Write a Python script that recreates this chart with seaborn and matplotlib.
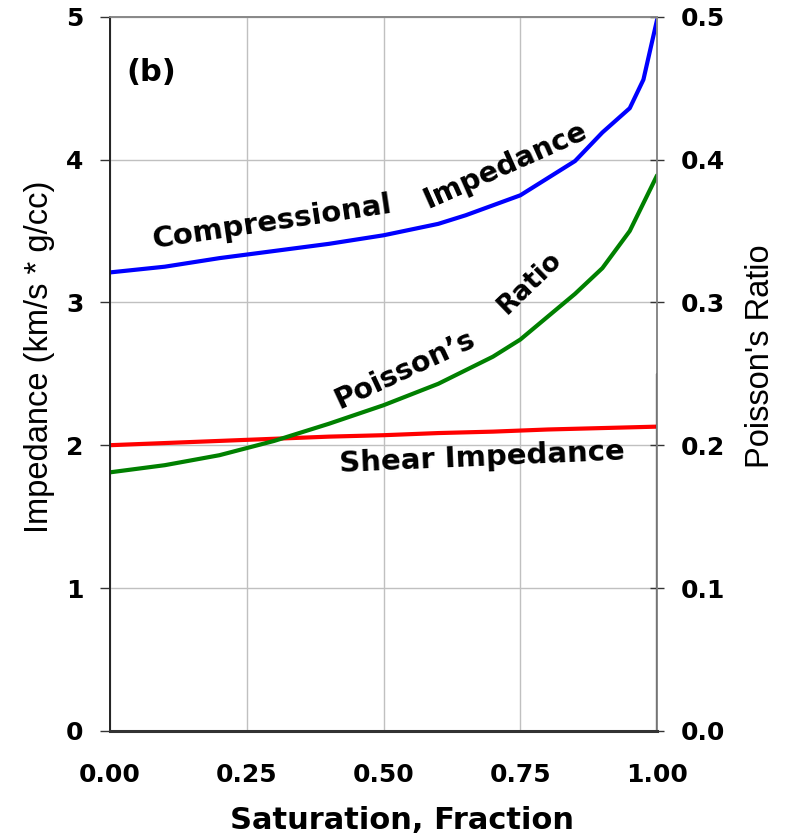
import matplotlib
matplotlib.use("Agg")
import matplotlib.pyplot as plt
import seaborn as sns

sns.set_style("white")
plt.rcParams['font.family'] = ['DejaVu Sans']
plt.rcParams['text.color'] = 'black'
plt.rcParams['axes.labelcolor'] = 'black'
plt.rcParams['xtick.color'] = 'black'
plt.rcParams['ytick.color'] = 'black'

# Data
comp_x = [0.0, 0.1, 0.2, 0.3, 0.4, 0.5, 0.6, 0.65, 0.75, 0.85, 0.9, 0.95, 0.975, 1.0]
comp_y = [3.21, 3.25, 3.31, 3.36, 3.41, 3.47, 3.55, 3.61, 3.75, 3.99, 4.19, 4.36, 4.56, 4.98]
shear_x = [0.0, 0.1, 0.2, 0.3, 0.4, 0.5, 0.6, 0.7, 0.8, 0.9, 1.0]
shear_y = [2.00, 2.015, 2.03, 2.045, 2.06, 2.07, 2.085, 2.095, 2.11, 2.12, 2.13]
pr_x = [0.0, 0.1, 0.2, 0.3, 0.4, 0.5, 0.6, 0.7, 0.75, 0.8, 0.85, 0.9, 0.95, 1.0]
pr_y = [0.181, 0.186, 0.193, 0.203, 0.215, 0.228, 0.243, 0.262, 0.274, 0.29, 0.306, 0.324, 0.35, 0.389]

x_ticks = [0.0, 0.25, 0.5, 0.75, 1.0]
x_ticklabels = ["0.00", "0.25", "0.50", "0.75", "1.00"]
left_ticks = [0, 1, 2, 3, 4, 5]
right_ticks = [0.0, 0.1, 0.2, 0.3, 0.4, 0.5]

fig = plt.figure(figsize=(7.86, 8.4), dpi=100)
ax = fig.add_axes([0.140, 0.130, 0.696, 0.850])

ax.grid(True, color="#c0c0c0", linewidth=1.0)
ax.set_axisbelow(True)

sns.lineplot(x=comp_x, y=comp_y, ax=ax, color="#0000ff", linewidth=3, estimator=None, sort=False)
sns.lineplot(x=shear_x, y=shear_y, ax=ax, color="#ff0000", linewidth=3, estimator=None, sort=False)

ax.set_xlim(0, 1)
ax.set_ylim(0, 5)
ax.set_xticks(x_ticks)
ax.set_xticklabels(x_ticklabels, fontsize=18, fontweight="bold")
ax.set_yticks(left_ticks)
ax.set_yticklabels([str(t) for t in left_ticks], fontsize=18, fontweight="bold")
ax.tick_params(axis="y", direction="out", length=7, width=1, color="#333333", pad=12)
ax.tick_params(axis="x", direction="out", length=4, width=1, color="#333333", pad=19)
ax.set_xlabel("Saturation, Fraction", fontsize=22, fontweight="bold")
ax.xaxis.set_label_coords(0.533, -0.105)
ax.set_ylabel("Impedance (km/s * g/cc)", fontsize=23.5, family="Liberation Sans")
ax.yaxis.set_label_coords(-0.100, 0.524)

ax2 = ax.twinx()
sns.lineplot(x=pr_x, y=pr_y, ax=ax2, color="#008000", linewidth=3, estimator=None, sort=False)
ax2.set_ylim(0, 0.5)
ax2.set_yticks(right_ticks)
ax2.set_yticklabels([f"{t:.1f}" for t in right_ticks], fontsize=18, fontweight="bold")
ax2.tick_params(axis="y", direction="inout", length=10, width=1, color="#333333", pad=12)
ax2.set_ylabel("Poisson's Ratio", fontsize=23.5, family="Liberation Sans")
ax2.yaxis.set_label_coords(1.161, 0.524)
ax2.grid(False)

for a in (ax, ax2):
    for s in a.spines.values():
        s.set_color("#888888")
        s.set_linewidth(1.2)
ax.spines["left"].set_color("#222222")
ax2.spines["left"].set_color("#222222")
ax2.spines["bottom"].set_color("#333333")
ax2.spines["bottom"].set_linewidth(2.2)
ax.axvline(1.0, ymin=0, ymax=0.5, color="#111111", linewidth=1.6, zorder=5)

ax.text(0.03, 4.55, "(b)", fontsize=22, fontweight="bold")
ax.text(0.296, 3.56, "Compressional", fontsize=21, fontweight="bold", rotation=8.5,
        ha="center", va="center")
ax.text(0.722, 3.96, "Impedance", fontsize=20.5, fontweight="bold", rotation=24,
        ha="center", va="center")
ax.text(0.539, 2.53, "Poisson\u2019s", fontsize=20.5, fontweight="bold", rotation=25,
        ha="center", va="center")
ax.text(0.768, 3.14, "Ratio", fontsize=19, fontweight="bold", rotation=44,
        ha="center", va="center")
ax.text(0.680, 1.91, "Shear Impedance", fontsize=21, fontweight="bold", rotation=2.5,
        ha="center", va="center")

fig.savefig("out.png", dpi=100)
